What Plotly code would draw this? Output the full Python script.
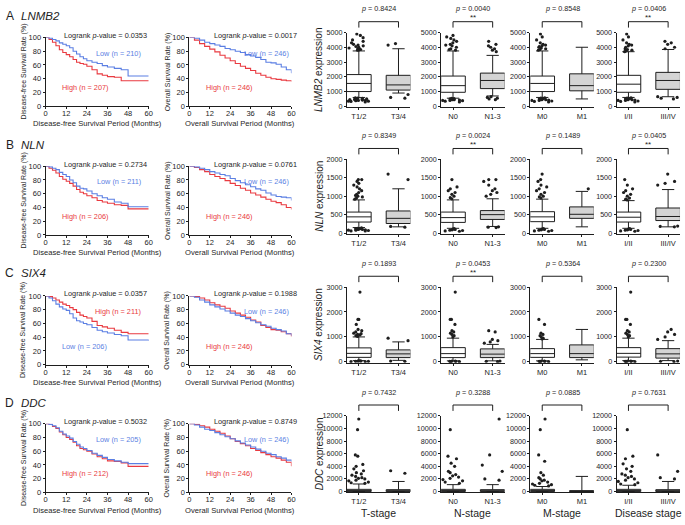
import plotly.graph_objects as go

W, H = 685, 525

# ---------------- data ----------------
row_letters = ["A", "B", "C", "D"]
genes = ["LNMB2", "NLN", "SIX4", "DDC"]

dfs_t = [0, 2, 4, 6, 8, 10, 12, 14, 16, 18, 20, 22, 24, 27, 30, 33, 36, 40, 44, 48, 60]
os_t = [0, 3, 6, 9, 12, 15, 18, 21, 24, 27, 30, 33, 36, 39, 42, 45, 48, 51, 54, 57, 60]

A_dfs_low = [100, 99, 97, 95, 92, 90, 88, 85, 80, 76, 72, 69, 66, 64, 62, 59, 57, 55, 53, 44, 44]
A_dfs_high = [100, 97, 93, 88, 82, 78, 75, 72, 68, 64, 62, 61, 58, 53, 47, 45, 43, 42, 37, 37, 37]
B_dfs_low = [100, 99, 97, 95, 91, 88, 85, 80, 76, 71, 68, 67, 64, 60, 57, 54, 52, 48, 46, 41, 41]
B_dfs_high = [100, 97, 94, 90, 85, 81, 78, 75, 71, 66, 62, 60, 57, 54, 50, 48, 46, 44, 43, 38, 38]
C_dfs_low = [100, 97, 93, 88, 84, 81, 79, 74, 68, 64, 62, 60, 58, 54, 50, 48, 46, 44, 42, 36, 35]
C_dfs_high = [100, 99, 97, 94, 91, 88, 86, 83, 80, 76, 72, 70, 68, 63, 57, 55, 53, 50, 47, 45, 45]
D_dfs_low = [100, 99, 97, 94, 89, 85, 82, 79, 74, 70, 66, 64, 61, 57, 54, 51, 48, 46, 44, 42, 42]
D_dfs_high = [100, 99, 96, 93, 88, 84, 80, 77, 73, 68, 64, 62, 60, 56, 52, 49, 46, 45, 43, 38, 38]

A_os_low = [100, 99, 96, 93, 91, 89, 87, 84, 82, 80, 78, 75, 73, 71, 68, 64, 63, 61, 57, 53, 48]
A_os_high = [100, 96, 91, 87, 83, 79, 74, 70, 66, 62, 58, 55, 52, 48, 45, 42, 40, 39, 38, 37, 36]
B_os_low = [100, 99, 97, 95, 92, 90, 88, 86, 82, 79, 76, 73, 70, 67, 65, 61, 58, 56, 55, 54, 50]
B_os_high = [100, 98, 95, 92, 88, 85, 82, 79, 75, 72, 68, 65, 61, 58, 55, 52, 49, 47, 44, 40, 37]
C_os_low = [100, 98, 94, 91, 87, 84, 81, 78, 75, 72, 70, 67, 64, 61, 58, 56, 53, 51, 49, 45, 42]
C_os_high = [100, 99, 97, 94, 90, 87, 85, 82, 78, 75, 72, 69, 65, 62, 57, 54, 51, 50, 48, 45, 41]
D_os_low = [100, 98, 95, 92, 90, 87, 84, 81, 78, 75, 72, 69, 66, 63, 60, 57, 55, 52, 50, 47, 45]
D_os_high = [100, 99, 97, 95, 92, 89, 86, 82, 78, 74, 71, 68, 64, 61, 58, 55, 52, 50, 47, 44, 38]

dfs_low = [A_dfs_low, B_dfs_low, C_dfs_low, D_dfs_low]
dfs_high = [A_dfs_high, B_dfs_high, C_dfs_high, D_dfs_high]
os_low = [A_os_low, B_os_low, C_os_low, D_os_low]
os_high = [A_os_high, B_os_high, C_os_high, D_os_high]

dfs_logrank = ["0.0353", "0.2734", "0.0357", "0.5032"]
os_logrank = ["0.0017", "0.0761", "0.1988", "0.8749"]
dfs_n_low = [210, 211, 206, 205]
dfs_n_high = [207, 206, 211, 212]
os_n_low = [246, 246, 246, 246]
os_n_high = [246, 246, 246, 246]

stage_titles = ["T-stage", "N-stage", "M-stage", "Disease stage"]
groups = ["T1/2", "T3/4", "N0", "N1-3", "M0", "M1", "I/II", "III/IV"]

box_pvals = [
    ["0.8424", "0.0040", "0.8548", "0.0406"],
    ["0.8349", "0.0024", "0.1489", "0.0405"],
    ["0.1893", "0.0453", "0.5364", "0.2300"],
    ["0.7432", "0.3288", "0.0885", "0.7631"],
]
box_stars = [
    [False, True, False, True],
    [False, True, False, True],
    [False, True, False, False],
    [False, False, False, False],
]

y_ticks = [
    [0, 1000, 2000, 3000, 4000, 5000],
    [0, 500, 1000, 1500, 2000],
    [0, 1000, 2000, 3000],
    [0, 2000, 4000, 6000, 8000, 10000, 12000],
]

LNMB2_q1 = [1000, 1100, 950, 1200, 1000, 1050, 950, 1150]
LNMB2_med = [1550, 1450, 1400, 1750, 1550, 1400, 1500, 1750]
LNMB2_q3 = [2150, 2100, 2050, 2250, 2050, 2200, 2100, 2300]
LNMB2_lo = [600, 900, 550, 700, 600, 500, 600, 650]
LNMB2_hi = [3750, 3900, 3750, 3450, 3750, 4000, 3700, 3850]
LNMB2_out = [
    [3800, 3820, 3850, 3880, 3900, 3950, 4000, 4050, 4100, 4150, 4200, 4300, 4400, 4500, 4650, 4800, 4900,
     300, 330, 350, 380, 400, 420, 440, 460, 480, 500, 520, 540, 560, 580, 350, 400, 450, 500],
    [4250, 4150, 800, 600, 550],
    [3800, 3850, 3900, 4000, 4100, 4150, 4200, 4300, 4400, 4500, 4600, 4700, 4800,
     300, 350, 380, 400, 420, 450, 480, 500, 520, 540, 400, 450],
    [3700, 3800, 3900, 4000, 4100, 4200, 4400, 450, 500, 550, 600, 650],
    [3800, 3850, 3900, 3950, 4000, 4050, 4100, 4150, 4200, 4300, 4500, 4700, 4900,
     300, 330, 360, 400, 420, 450, 480, 500, 520, 550, 580, 400, 450],
    [],
    [3700, 3750, 3800, 3850, 3900, 4000, 4100, 4150, 4200, 4300, 4500, 4700, 4900,
     300, 330, 360, 400, 420, 450, 480, 500, 520, 550, 580, 400, 450],
    [3900, 4000, 4200, 4300, 4400, 500, 550, 600, 650],
]

NLN_q1 = [300, 260, 290, 370, 310, 400, 300, 340]
NLN_med = [440, 400, 420, 500, 440, 510, 430, 450]
NLN_q3 = [570, 600, 570, 610, 580, 710, 570, 680]
NLN_lo = [150, 170, 130, 180, 130, 170, 130, 170]
NLN_hi = [900, 1200, 900, 930, 920, 1130, 880, 1180]
NLN_out = [
    [920, 950, 980, 1000, 1020, 1050, 1100, 1150, 1200, 1250, 1300, 1350, 1400, 1450, 1450,
     60, 70, 80, 90, 100, 110, 120, 130, 140, 60, 80, 100, 120],
    [1600, 1450, 180, 160],
    [930, 960, 1000, 1050, 1100, 1150, 1200, 1250, 1450, 50, 60, 70, 80, 90, 100, 110, 120],
    [1000, 1050, 1100, 1150, 1200, 1300, 1400, 1450, 1450, 150, 160, 170],
    [950, 980, 1000, 1050, 1100, 1150, 1200, 1250, 1300, 1400, 1450, 1600,
     50, 60, 70, 80, 90, 100, 110, 120],
    [1200],
    [900, 920, 950, 1000, 1050, 1100, 1150, 1200, 1300, 1450, 50, 60, 70, 80, 90, 100, 110, 120],
    [1300, 1350, 1400, 1600, 170, 180, 190],
]

SIX4_q1 = [180, 170, 170, 170, 180, 170, 190, 150]
SIX4_med = [340, 320, 330, 310, 330, 330, 340, 320]
SIX4_q3 = [560, 480, 570, 520, 530, 680, 570, 530]
SIX4_lo = [50, 60, 40, 40, 40, 80, 50, 50]
SIX4_hi = [1000, 800, 950, 700, 900, 1300, 950, 850]
SIX4_out = [
    [1020, 1050, 1080, 1100, 1130, 1150, 1200, 1250, 1300, 1500, 1700, 1700, 2800, 10, 20, 30, 40, 10, 20, 30, 40],
    [950, 850, 20, 30],
    [1000, 1050, 1100, 1150, 1200, 1250, 1500, 1700, 1700, 2800, 10, 20, 30, 10, 20, 30],
    [750, 800, 850, 900, 1200, 1250, 10, 20, 30],
    [920, 950, 1000, 1050, 1100, 1150, 1500, 1700, 10, 20, 30, 10, 20, 30],
    [],
    [1000, 1050, 1100, 1150, 1200, 1250, 1500, 1700, 1700, 2800, 10, 20, 30, 10, 20, 30],
    [900, 1000, 1100, 1200, 1300, 10, 20, 30],
]

DDC_q1 = [0, 0, 0, 0, 0, 0, 0, 0]
DDC_med = [100, 100, 100, 100, 100, 50, 100, 100]
DDC_q3 = [350, 300, 350, 300, 350, 150, 350, 300]
DDC_lo = [0, 0, 0, 0, 0, 0, 0, 0]
DDC_hi = [1200, 1600, 1100, 1100, 800, 2400, 1000, 1600]
DDC_out = [
    [1300, 1400, 1500, 1700, 1800, 2000, 2100, 2200, 2400, 2600, 2800, 3000, 3300, 3600, 4000, 4300, 5600, 5800, 9800, 11500],
    [3300, 2900],
    [1300, 1500, 1700, 1900, 2100, 2300, 2500, 2700, 3000, 3200, 4000, 4500, 5200, 5600, 9800],
    [1800, 2000, 3200, 4200, 5800, 11500],
    [900, 1000, 1100, 1200, 1300, 1500, 1700, 1800, 2000, 2200, 2600, 3000, 4800, 5800, 9800, 11500],
    [],
    [1100, 1200, 1400, 1600, 1800, 2000, 2200, 2400, 2600, 2800, 3200, 3600, 4000, 4400, 5200, 5600, 9800],
    [2000, 2200, 3200, 5800],
]

box_q1 = [LNMB2_q1, NLN_q1, SIX4_q1, DDC_q1]
box_med = [LNMB2_med, NLN_med, SIX4_med, DDC_med]
box_q3 = [LNMB2_q3, NLN_q3, SIX4_q3, DDC_q3]
box_lo = [LNMB2_lo, NLN_lo, SIX4_lo, DDC_lo]
box_hi = [LNMB2_hi, NLN_hi, SIX4_hi, DDC_hi]
box_out = [LNMB2_out, NLN_out, SIX4_out, DDC_out]

# ---------------- layout (screen pixels) ----------------
FONT = "Arial, Liberation Sans, sans-serif"
INK = "#1e1e1e"
BLUE = "#5b7fe3"
RED = "#e93a40"

KM_TOP = [34, 165, 297, 427]
KM_H = 70
KM_X = [(44, 148), (189, 292)]
BOX_TOP = [29, 158, 288, 419]
BOX_BOT = [105, 234, 365, 497]
BOX_X = [(348, 412), (443, 507), (533, 597), (620, 684)]
XR = [-0.3, 1.3]
LABEL_Y = [12, 143, 274, 406]


def fx(p):
    return p / W


def fy(p):
    return 1 - p / H


def name(n):
    return "" if n == 1 else str(n)


def ax(**kw):
    base = dict(showgrid=False, zeroline=False, showline=True, linecolor=INK, linewidth=1,
                ticks="outside", ticklen=2, tickwidth=1, tickcolor=INK,
                tickfont=dict(size=7.5, color=INK, family=FONT), fixedrange=True)
    base.update(kw)
    return base


fig = go.Figure()
layout = dict(width=W, height=H, margin=dict(l=0, r=0, t=0, b=0),
              paper_bgcolor="white", plot_bgcolor="white", showlegend=False,
              boxmode="overlay", font=dict(family=FONT, size=8, color=INK))
ann = []
shapes = []


def text(x, y, s, size=8, color=INK, xanchor="center", angle=0):
    ann.append(dict(x=fx(x), y=fy(y), xref="paper", yref="paper", text=s, showarrow=False,
                    font=dict(size=size, color=color, family=FONT), xanchor=xanchor,
                    yanchor="middle", textangle=angle))


for r in range(4):
    text(8, LABEL_Y[r], row_letters[r], size=12)
    text(17, LABEL_Y[r], "<i>%s</i>" % genes[r], size=11.5, xanchor="left")

    # ---- Kaplan-Meier panels
    top = KM_TOP[r]
    bot = top + KM_H
    km_sets = [
        (dfs_t, dfs_low[r], dfs_high[r], dfs_logrank[r], dfs_n_low[r], dfs_n_high[r],
         "Disease-free Survival Rate (%)", "Disease-free Survival Period (Months)"),
        (os_t, os_low[r], os_high[r], os_logrank[r], os_n_low[r], os_n_high[r],
         "Overall Survival Rate (%)", "Overall Survival Period (Months)"),
    ]
    for j, (t, lo, hi, lr, nl, nh, ytitle, xtitle) in enumerate(km_sets):
        n = 6 * r + 1 + j
        x0, x1 = KM_X[j]
        layout["xaxis" + name(n)] = ax(domain=[fx(x0), fx(x1)], anchor="y" + name(n), range=[0, 60],
                                      tickvals=[0, 12, 24, 36, 48, 60], ticklabelstandoff=-2)
        layout["yaxis" + name(n)] = ax(domain=[fy(bot), fy(top)], anchor="x" + name(n), range=[0, 100],
                                      tickvals=[0, 20, 40, 60, 80, 100])
        for s, col in ((hi, RED), (lo, BLUE)):
            fig.add_trace(go.Scatter(x=t, y=s, mode="lines", line=dict(color=col, width=1.1, shape="hv"),
                                     cliponaxis=False, xaxis="x" + name(n), yaxis="y" + name(n)))
        lr_right = x1 if j == 0 else x1 + 8
        text(lr_right, top - 2, "Logrank <i>p</i>-value = %s" % lr, size=7.3, xanchor="right")
        low_txt = "Low (n = %d)" % nl
        high_txt = "High (n = %d)" % nh
        right_x = x1 - 6 if j == 0 else x1
        if r == 2 and j == 0:
            text(right_x, top + 16, high_txt, size=7.3, color=RED, xanchor="right")
            text(x0 + 15, top + 51, low_txt, size=7.3, color=BLUE, xanchor="left")
        else:
            text(right_x, top + 16, low_txt, size=7.3, color=BLUE, xanchor="right")
            text(x0 + 15, top + 51, high_txt, size=7.3, color=RED, xanchor="left")
        text(x0 - 22, (top + bot) / 2, ytitle, size=7, angle=-90)
        text((x0 + x1) / 2, bot + 18, xtitle, size=7.6)

    # ---- expression box panels
    btop, bbot = BOX_TOP[r], BOX_BOT[r]
    ymax = y_ticks[r][-1]
    for k in range(4):
        n = 6 * r + 3 + k
        x0, x1 = BOX_X[k]
        layout["xaxis" + name(n)] = ax(domain=[fx(x0), fx(x1)], anchor="y" + name(n), range=XR,
                                      tickvals=[0, 1], ticktext=groups[2 * k:2 * k + 2])
        layout["yaxis" + name(n)] = ax(domain=[fy(bbot), fy(btop)], anchor="x" + name(n),
                                      range=[-0.012 * ymax, ymax], tickvals=y_ticks[r],
                                      tickformat="d",
                                      tickfont=dict(size=7.2, color=INK, family=FONT))
        for c in range(2):
            g = 2 * k + c
            fig.add_trace(go.Box(
                x=[c], q1=[box_q1[r][g]], median=[box_med[r][g]], q3=[box_q3[r][g]],
                lowerfence=[box_lo[r][g]], upperfence=[box_hi[r][g]], orientation="v",
                width=0.62, whiskerwidth=0.5, boxpoints=False,
                fillcolor="white" if c == 0 else "#d4d4d4",
                line=dict(color=INK, width=1), xaxis="x" + name(n), yaxis="y" + name(n)))
            pts = box_out[r][g]
            if pts:
                fig.add_trace(go.Box(
                    x=[c] * len(pts), y=pts, orientation="v", width=0.62, boxpoints="all",
                    jitter=1.0, pointpos=0, fillcolor="rgba(0,0,0,0)", line=dict(width=0),
                    marker=dict(color=INK, size=3.2), xaxis="x" + name(n), yaxis="y" + name(n)))
        # bracket + p value
        fa = (0 - XR[0]) / (XR[1] - XR[0])
        fb = (1 - XR[0]) / (XR[1] - XR[0])
        yt = fy(btop - 11)
        yb = fy(btop - 5)
        xref = "x%s domain" % name(n)
        for (a0, b0, a1, b1) in ((fa, yb, fa, yt), (fa, yt, fb, yt), (fb, yt, fb, yb)):
            shapes.append(dict(type="line", xref=xref, yref="paper", x0=a0, y0=b0, x1=a1, y1=b1,
                               line=dict(color=INK, width=1)))
        ann.append(dict(x=(fa + fb) / 2, y=fy(btop - 24), xref=xref, yref="paper",
                        text="<i>p</i> = %s" % box_pvals[r][k], showarrow=False,
                        font=dict(size=7.2, color=INK, family=FONT), yanchor="middle"))
        if box_stars[r][k]:
            ann.append(dict(x=(fa + fb) / 2, y=fy(btop - 15), xref=xref, yref="paper",
                            text="**", showarrow=False, font=dict(size=8, color=INK, family=FONT),
                            yanchor="middle"))
        if r == 3:
            ann.append(dict(x=(fa + fb) / 2, y=fy(518), xref=xref, yref="paper",
                            text=stage_titles[k], showarrow=False,
                            font=dict(size=10.5, color=INK, family=FONT), yanchor="middle"))
    text(320, (btop + bbot) / 2, "<i>%s</i> expression" % genes[r], size=10, angle=-90)

layout["annotations"] = ann
layout["shapes"] = shapes
fig.update_layout(**layout)
# drop the page's default body margin so the figure sits at the window's corner
fig.write_html("out.html", config={"displayModeBar": False},
               post_script="document.body.style.margin = '0px';")
